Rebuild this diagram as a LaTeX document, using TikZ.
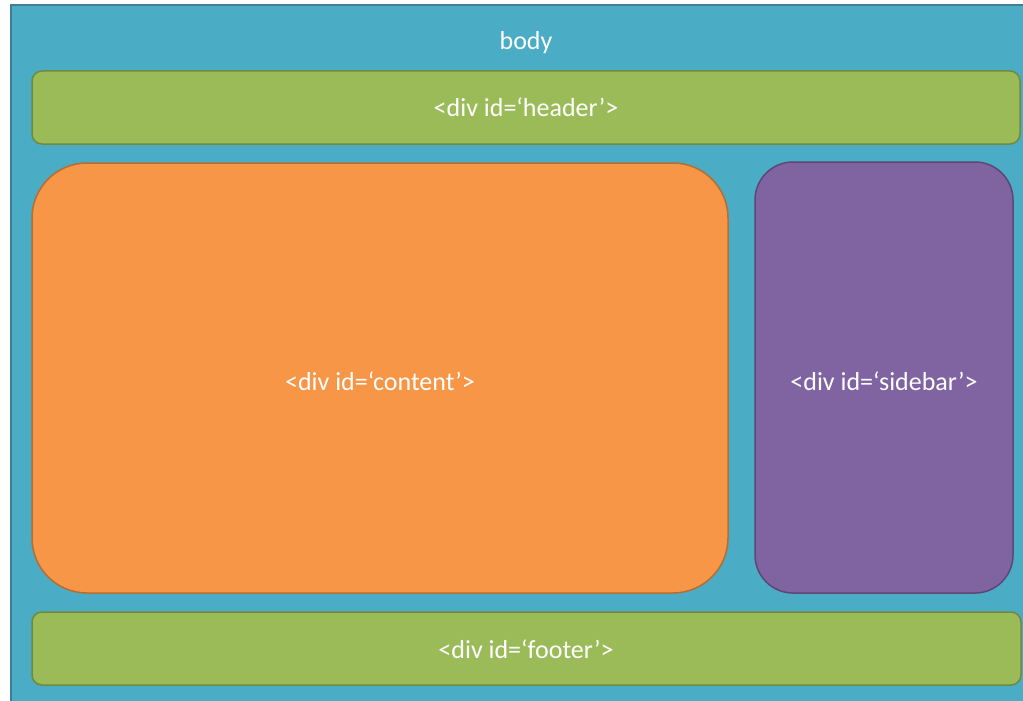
\documentclass[tikz,border=0pt]{standalone}
\usepackage{fontspec}
\setmainfont{Carlito}
\definecolor{bodyblue}{HTML}{4BACC6}
\definecolor{bodyedge}{HTML}{3F7F95}
\definecolor{grn}{HTML}{9BBB59}
\definecolor{grnedge}{HTML}{71893F}
\definecolor{org}{HTML}{F79646}
\definecolor{orgedge}{HTML}{B66D31}
\definecolor{pur}{HTML}{8064A2}
\definecolor{puredge}{HTML}{5C4776}
\tikzset{
  lbl/.style={text=white, font=\fontsize{26}{30}\selectfont},
  box/.style={rounded corners=#1, line width=1.5pt},
}
\begin{document}
\begin{tikzpicture}[x=1pt,y=-1pt]
\useasboundingbox (0,0) rectangle (1023,701);
\fill[white] (0,0) rectangle (1023,701);
\draw[fill=bodyblue, draw=bodyedge, line width=1.2pt] (11,5) rectangle (1030,710);
\node[lbl] (body) at (526,43) {body};
\draw[box=10pt, fill=grn, draw=grnedge] (32,71) rectangle (1020,144);
\node[lbl] (header) at (526,107) {<div id=‘header’>};
\draw[box=55pt, fill=org, draw=orgedge] (32,163) rectangle (728,593);
\node[lbl] (content) at (380,381) {<div id=‘content’>};
\draw[box=38pt, fill=pur, draw=puredge] (755,162) rectangle (1013,593);
\node[lbl] (sidebar) at (884,381) {<div id=‘sidebar’>};
\draw[box=10pt, fill=grn, draw=grnedge] (32,612) rectangle (1021,685);
\node[lbl] (footer) at (526,649) {<div id=‘footer’>};
\end{tikzpicture}
\end{document}
